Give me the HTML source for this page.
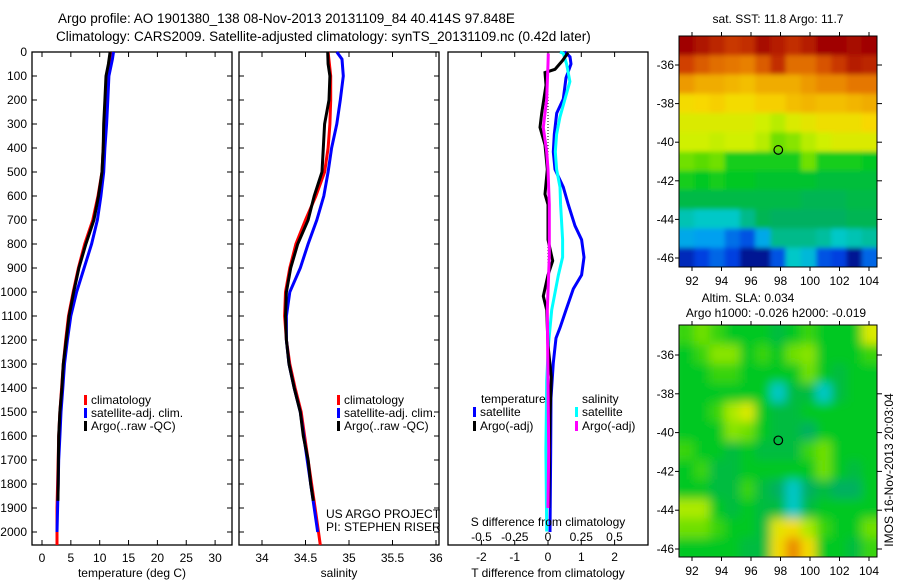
<!DOCTYPE html>
<html><head><meta charset="utf-8">
<style>
html,body{margin:0;padding:0;background:#fff;}
svg{display:block;font-family:"Liberation Sans",Arial,sans-serif;}
</style></head>
<body>
<svg id="fig" width="900" height="580" viewBox="0 0 900 580">
<defs>
<clipPath id="clip-m1"><rect x="679" y="36" width="198" height="231"/></clipPath>
<clipPath id="clip-m2"><rect x="679" y="325" width="198" height="232"/></clipPath>
<filter id="blur-m1" x="-10%" y="-10%" width="120%" height="120%"><feGaussianBlur stdDeviation="2.5"/></filter>
<filter id="blur-m2" x="-10%" y="-10%" width="120%" height="120%"><feGaussianBlur stdDeviation="5"/></filter>
</defs>
<text x="58" y="23" font-size="13.5">Argo profile: AO 1901380_138 08-Nov-2013 20131109_84 40.414S 97.848E</text>
<text x="56" y="41" font-size="13.5">Climatology: CARS2009. Satellite-adjusted climatology: synTS_20131109.nc (0.42d later)</text>
<g id="g1"></g>
<g id="g2"></g>
<g id="g3"></g>
<g id="m1"><g clip-path="url(#clip-m1)"><g id="m1c" filter="url(#blur-m1)"></g></g></g>
<g id="m2"><g clip-path="url(#clip-m2)"><g id="m2c" filter="url(#blur-m2)"></g></g></g>
</svg>
<script>
// ---- profile data (depth in m) ----
const depthTicks=[0,100,200,300,400,500,600,700,800,900,1000,1100,1200,1300,1400,1500,1600,1700,1800,1900,2000];
const tempTicks=[0,5,10,15,20,25,30];
const salTicks=[34,34.5,35,35.5,36];
const dTTicks=[-2,-1,0,1,2];
const dSTicks=[-0.5,-0.25,0,0.25,0.5];
const dSTickLabels=["-0.5","-0.25","0","0.25","0.5"];

const climDepth=[0,100,200,300,400,500,600,700,800,900,1000,1100,1200,1300,1400,1500,1600,1700,1800,1900,2000,2054];
const climTemp=[11.9,11.3,11.0,10.8,10.6,10.4,9.7,8.8,7.4,6.3,5.4,4.6,4.1,3.7,3.4,3.1,2.9,2.8,2.7,2.6,2.6,2.6];
const climSal=[34.76,34.79,34.79,34.78,34.76,34.72,34.62,34.5,34.39,34.32,34.27,34.26,34.28,34.32,34.38,34.45,34.49,34.53,34.57,34.61,34.65,34.67];

const satDepth=[0,30,100,200,300,400,500,600,700,800,900,1000,1100,1200,1300,1400,1500,1600,1700,1800,1900,2000];
const satTemp=[12.4,12.2,11.6,11.4,11.2,10.9,10.7,10.2,9.6,8.6,7.3,6.0,5.0,4.4,3.9,3.6,3.3,3.1,2.9,2.8,2.7,2.6];
const satSal=[34.86,34.92,34.935,34.9,34.86,34.8,34.76,34.71,34.63,34.53,34.44,34.32,34.28,34.28,34.31,34.37,34.44,34.48,34.52,34.56,34.6,34.64];

const argoDepth=[0,50,100,200,300,400,500,550,600,700,800,900,1000,1100,1200,1300,1400,1500,1600,1700,1800,1870];
const argoTemp=[11.8,11.5,11.1,10.9,10.7,10.6,10.4,10.1,9.8,9.0,7.6,6.4,5.5,4.7,4.2,3.7,3.45,3.1,2.9,2.85,2.8,2.75];
const argoSal=[34.755,34.76,34.78,34.77,34.72,34.705,34.69,34.645,34.6,34.53,34.41,34.33,34.28,34.27,34.28,34.31,34.37,34.44,34.475,34.53,34.56,34.59];

const dTsatDepth=[0,6,20,50,108,196,255,343,416,489,563,636,724,782,855,929,987,1075,1149,1192,1295,1442,1661,2000];
const dTsat=[0.5,0.56,0.66,0.69,0.54,0.46,0.26,0.19,0.16,0.21,0.46,0.61,0.81,1.01,1.08,1.01,0.76,0.54,0.36,0.24,0.16,0.09,0.08,0.06];
const dSsatDepth=[0,6,50,123,196,270,343,416,489,563,636,782,855,929,1075,1222,1368,1661,1998];
const dSsat=[0.09,0.115,0.14,0.165,0.128,0.09,0.065,0.055,0.065,0.09,0.095,0.11,0.11,0.078,0.028,0.003,-0.01,-0.016,-0.01];
const dTargoDepth=[3,35,72,86,138,255,314,387,489,592,636,782,870,929,1017,1075,1222,1354,1515,1900];
const dTargo=[0.6,0.44,0.21,-0.09,-0.06,-0.19,-0.24,-0.09,-0.02,-0.09,0,0,0.14,0,-0.14,-0.04,0,0.1,0.06,0.02];
const dSargoDepth=[6,50,196,314,416,489,636,855,1075,1368,1661,1900];
const dSargo=[0.002,0,-0.01,-0.035,-0.01,0,0.01,0.01,-0.005,0,0.005,0];

// ---- map data ----
const mapLonTicks=[92,94,96,98,100,102,104];
const mapLatTicks=[-36,-38,-40,-42,-44,-46];
const sstGrid=[
[1.0,0.98,0.96,0.94,0.95,0.99,0.97,0.95,0.97,1.0,1.0,0.99,1.0],
[0.93,0.9,0.88,0.87,0.86,0.9,0.95,0.88,0.88,0.91,0.94,0.97,0.96],
[0.83,0.81,0.81,0.8,0.79,0.81,0.81,0.81,0.83,0.85,0.85,0.87,0.87],
[0.75,0.76,0.77,0.75,0.75,0.77,0.77,0.79,0.8,0.79,0.79,0.8,0.81],
[0.7,0.7,0.7,0.7,0.7,0.68,0.66,0.7,0.72,0.74,0.74,0.74,0.76],
[0.68,0.68,0.67,0.68,0.68,0.66,0.6,0.62,0.66,0.68,0.7,0.7,0.7],
[0.6,0.58,0.6,0.52,0.52,0.52,0.52,0.52,0.6,0.52,0.52,0.52,0.5],
[0.52,0.5,0.52,0.5,0.5,0.48,0.48,0.48,0.48,0.46,0.46,0.46,0.46],
[0.44,0.44,0.44,0.44,0.44,0.44,0.44,0.44,0.42,0.42,0.42,0.44,0.44],
[0.32,0.3,0.3,0.3,0.36,0.42,0.4,0.4,0.4,0.4,0.4,0.42,0.42],
[0.22,0.2,0.2,0.15,0.12,0.22,0.36,0.36,0.36,0.34,0.3,0.32,0.34],
[0.06,0.1,0.14,0.1,0.02,0.02,0.12,0.3,0.26,0.12,0.1,0.02,0.14]];
const slaGrid=[
[0.55,0.6,0.55,0.5,0.5,0.5,0.45,0.5,0.55,0.5,0.5,0.5,0.7],
[0.5,0.55,0.62,0.62,0.5,0.55,0.5,0.6,0.62,0.5,0.5,0.5,0.55],
[0.5,0.5,0.55,0.55,0.5,0.5,0.5,0.5,0.6,0.5,0.45,0.5,0.5],
[0.5,0.5,0.5,0.5,0.5,0.5,0.3,0.45,0.45,0.3,0.45,0.5,0.5],
[0.5,0.5,0.55,0.65,0.7,0.5,0.45,0.45,0.5,0.5,0.5,0.5,0.5],
[0.5,0.5,0.5,0.62,0.6,0.5,0.45,0.45,0.4,0.5,0.5,0.5,0.5],
[0.55,0.5,0.5,0.45,0.5,0.45,0.45,0.45,0.55,0.6,0.5,0.5,0.5],
[0.5,0.55,0.45,0.45,0.5,0.5,0.5,0.5,0.5,0.6,0.5,0.45,0.5],
[0.5,0.5,0.45,0.45,0.55,0.45,0.4,0.3,0.4,0.45,0.4,0.4,0.5],
[0.65,0.65,0.5,0.45,0.5,0.45,0.45,0.3,0.45,0.5,0.5,0.5,0.5],
[0.6,0.6,0.55,0.5,0.5,0.45,0.72,0.75,0.65,0.55,0.5,0.5,0.6],
[0.5,0.5,0.5,0.5,0.45,0.45,0.75,0.85,0.75,0.5,0.5,0.45,0.55]];
const argoLon=[97.85];
const argoLat=[-40.4];

const NS='http://www.w3.org/2000/svg';
function mk(parent,tag,attrs,txt){const e=document.createElementNS(NS,tag);for(const k in attrs)e.setAttribute(k,attrs[k]);if(txt!==undefined)e.textContent=txt;parent.appendChild(e);return e;}

const Y0=52, PX_PER_M=0.24, YB=545;
const yD=d=>Y0+d*PX_PER_M;
const xT=t=>42+t*5.77;
const xS=s=>262+(s-34)*87;
const xDT=t=>548+t*33.3;
const xDS=s=>548+s*133;

function frame(g,x0,x1,name){
  const r=mk(g,'rect',{x:x0,y:Y0,width:x1-x0,height:YB-Y0,fill:'none',stroke:'#000','stroke-width':1.3});
  
  
  depthTicks.forEach(d=>{
    mk(g,'line',{x1:x0,x2:x0+5,y1:yD(d),y2:yD(d),stroke:'#000'});
    mk(g,'line',{x1:x1,x2:x1-5,y1:yD(d),y2:yD(d),stroke:'#000'});
  });
}
function xticks(g,vals,fx,labels,ly){
  vals.forEach((v,i)=>{
    mk(g,'line',{x1:fx(v),x2:fx(v),y1:Y0,y2:Y0+5,stroke:'#000'});
    mk(g,'line',{x1:fx(v),x2:fx(v),y1:YB,y2:YB-5,stroke:'#000'});
    if(labels){const t=mk(g,'text',{x:fx(v),y:ly,'font-size':12,'text-anchor':'middle'},labels[i]);
      
      }
  });
}
function line(g,xs,ds,fx,color,name,w){
  const pts=xs.map((v,i)=>fx(v).toFixed(1)+','+yD(ds[i]).toFixed(1)).join(' ');
  const p=mk(g,'polyline',{points:pts,fill:'none',stroke:color,'stroke-width':w||3,'stroke-linejoin':'miter'});
  
  
}
function txt(g,x,y,s,name,opts){
  const t=mk(g,'text',Object.assign({x:x,y:y,'font-size':12},opts||{}),s);
  
  
  return t;
}
function legend(g,x,y,color,label,name){
  const r=mk(g,'rect',{x:x,y:y-9,width:3,height:10,fill:color});
  
  
  txt(g,x+7,y,label,name+'-label');
}

// Panel 1
const g1=document.getElementById('g1');
frame(g1,32,232,'temperature-panel');
depthTicks.forEach(d=>{txt(g1,27,yD(d)+4,String(d),'depth-tick-label',{'text-anchor':'end'});});
xticks(g1,tempTicks,xT,tempTicks.map(String),562);
line(g1,climTemp,climDepth,xT,'#f00','temp-climatology-line');
line(g1,satTemp,satDepth,xT,'#00f','temp-satellite-line');
line(g1,argoTemp,argoDepth,xT,'#000','temp-argo-line');
legend(g1,84,404,'#f00','climatology','legend-climatology');
legend(g1,84,417,'#00f','satellite-adj. clim.','legend-satellite');
legend(g1,84,430,'#000','Argo(..raw -QC)','legend-argo');
txt(g1,132,577,'temperature (deg C)','x-axis-title-temperature',{'text-anchor':'middle'});

// Panel 2
const g2=document.getElementById('g2');
frame(g2,239,439,'salinity-panel');
xticks(g2,salTicks,xS,salTicks.map(String),562);
line(g2,climSal,climDepth,xS,'#f00','sal-climatology-line');
line(g2,satSal,satDepth,xS,'#00f','sal-satellite-line');
line(g2,argoSal,argoDepth,xS,'#000','sal-argo-line');
legend(g2,337,404,'#f00','climatology','legend-climatology-2');
legend(g2,337,417,'#00f','satellite-adj. clim.','legend-satellite-2');
legend(g2,337,430,'#000','Argo(..raw -QC)','legend-argo-2');
txt(g2,326,518,'US ARGO PROJECT','project-credit');
txt(g2,326,531,'PI: STEPHEN RISER','pi-credit');
txt(g2,339,577,'salinity','x-axis-title-salinity',{'text-anchor':'middle'});

// Panel 3
const g3=document.getElementById('g3');
const r3=mk(g3,'rect',{x:448,y:Y0,width:200,height:YB-Y0,fill:'none',stroke:'#000','stroke-width':1.3});


xticks(g3,dTTicks,xDT,dTTicks.map(String),561);
dSTicks.forEach((v,i)=>{txt(g3,xDS(v),541,dSTickLabels[i],'s-tick-label',{'text-anchor':'middle'});});
mk(g3,'line',{x1:548,x2:548,y1:yD(0),y2:yD(1050),stroke:'#000','stroke-dasharray':'1,2','stroke-width':1});
line(g3,dTsat,dTsatDepth,xDT,'#00f','dT-satellite-line');
line(g3,dSsat,dSsatDepth,xDS,'#0ff','dS-satellite-line');
line(g3,dTargo,dTargoDepth,xDT,'#000','dT-argo-line');
line(g3,dSargo,dSargoDepth,xDS,'#f0f','dS-argo-line');
txt(g3,481,403,'temperature','legend-heading-temperature');
txt(g3,582,403,'salinity','legend-heading-salinity');
legend(g3,473,416,'#00f','satellite','legend-dT-satellite');
legend(g3,473,430,'#000','Argo(-adj)','legend-dT-argo');
legend(g3,575,416,'#0ff','satellite','legend-dS-satellite');
legend(g3,575,430,'#f0f','Argo(-adj)','legend-dS-argo');
txt(g3,548,526,'S difference from climatology','s-axis-title',{'text-anchor':'middle'});
txt(g3,548,577,'T difference from climatology','t-axis-title',{'text-anchor':'middle'});

// colormap
const cstops=[[0,[0,10,128]],[0.1,[0,64,224]],[0.2,[0,160,240]],[0.3,[0,200,200]],[0.4,[0,176,96]],[0.5,[0,200,32]],[0.6,[112,224,0]],[0.68,[208,240,0]],[0.76,[248,216,0]],[0.86,[232,128,0]],[0.93,[208,64,0]],[1,[160,0,0]]];
function cmap(v){
  v=Math.max(0,Math.min(1,v));
  for(let i=1;i<cstops.length;i++){if(v<=cstops[i][0]){const a=cstops[i-1],b=cstops[i];const f=(v-a[0])/(b[0]-a[0]);
    const c=a[1].map((x,k)=>Math.round(x+(b[1][k]-x)*f));return 'rgb('+c.join(',')+')';}}
  return 'rgb(160,0,0)';
}
function drawMap(gid,cid,grid,top,bot,lat36,lat46,ticklabelY,name){
  const g=document.getElementById(gid);
  const gc=document.getElementById(cid);
  const L=679,R=877;
  const fx=lon=>692+(lon-92)*14.75;
  const fy=lat=>lat36+(-36-lat)*(lat46-lat36)/10;
  const rows=grid.length, cols=grid[0].length;
  const cw=(R-L)/cols, ch=(bot-top)/rows;
  grid.forEach((row,i)=>row.forEach((v,j)=>{
    const x=L+j*cw-(j===0?8:0), y=top+i*ch-(i===0?8:0);
    const w=cw+0.6+(j===0?8:0)+(j===cols-1?8:0), h=ch+0.6+(i===0?8:0)+(i===rows-1?8:0);
    const c=mk(gc,'rect',{x:x.toFixed(2),y:y.toFixed(2),width:w.toFixed(2),height:h.toFixed(2),fill:cmap(v)});
    
    
  }));
  const f=mk(g,'rect',{x:L,y:top,width:R-L,height:bot-top,fill:'none',stroke:'#000','stroke-width':1});
  
  
  mapLonTicks.forEach(lon=>{
    mk(g,'line',{x1:fx(lon),x2:fx(lon),y1:top,y2:top-4,stroke:'#000'});
    mk(g,'line',{x1:fx(lon),x2:fx(lon),y1:bot,y2:bot+4,stroke:'#000'});
    txt(g,fx(lon),ticklabelY,String(lon),'lon-tick-label',{'text-anchor':'middle'});
  });
  mapLatTicks.forEach(lat=>{
    mk(g,'line',{x1:L,x2:L-4,y1:fy(lat),y2:fy(lat),stroke:'#000'});
    mk(g,'line',{x1:R,x2:R+5,y1:fy(lat),y2:fy(lat),stroke:'#000'});
    txt(g,L-5,fy(lat)+4,String(lat),'lat-tick-label',{'text-anchor':'end'});
  });
  argoLon.forEach((lon,i)=>{
    const c=mk(g,'circle',{cx:fx(lon),cy:fy(argoLat[i]),r:4.3,fill:'none',stroke:'#000','stroke-width':1.2});
    
    
  });
}
drawMap('m1','m1c',sstGrid,36,267,65,258,285,'sst-map');
drawMap('m2','m2c',slaGrid,325,557,355,549,575,'sla-map');
const m1=document.getElementById('m1'), m2=document.getElementById('m2');
txt(m1,778,23,'sat. SST: 11.8 Argo: 11.7','sst-map-title',{'text-anchor':'middle'});
txt(m2,748,302,'Altim. SLA: 0.034','sla-map-title',{'text-anchor':'middle'});
txt(m2,776,317,'Argo h1000: -0.026 h2000: -0.019','sla-map-subtitle',{'text-anchor':'middle'});
txt(m2,893,470,'IMOS 16-Nov-2013 20:03:04','imos-timestamp',{'text-anchor':'middle',transform:'rotate(-90 893 470)'});
</script>
</body></html>
